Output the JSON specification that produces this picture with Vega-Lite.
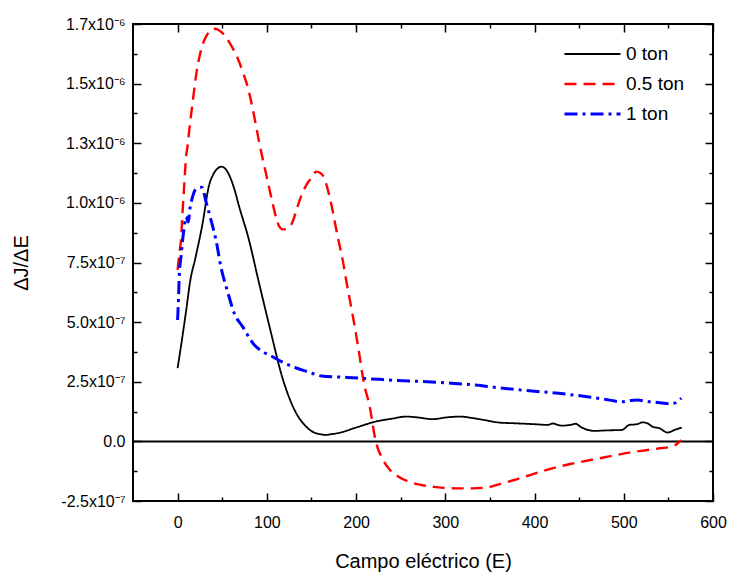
{
  "$schema": "https://vega.github.io/schema/vega-lite/v6.json",
  "width": 580,
  "height": 477,
  "autosize": "none",
  "padding": {"left": 133, "top": 24, "right": 17, "bottom": 72},
  "background": "white",
  "config": {
    "font": "Liberation Sans",
    "view": {"stroke": "black", "strokeWidth": 2},
    "axis": {
      "domain": false,
      "ticks": false,
      "grid": true,
      "gridColor": "#000000",
      "gridOpacity": 1,
      "gridWidth": 1.5,
      "labelColor": "black",
      "labelFont": "Liberation Sans",
      "labelFontSize": 16,
      "titleFont": "Liberation Sans",
      "titleFontSize": 20,
      "titleFontWeight": "normal",
      "titleColor": "black",
      "labelFlush": false,
      "labelOverlap": false
    }
  },
  "data": {
    "values": [
      {"E": 0, "dJdE": 3.07e-7, "series": "0 ton"},
      {"E": 5, "dJdE": 4.3e-7, "series": "0 ton"},
      {"E": 10, "dJdE": 5.6e-7, "series": "0 ton"},
      {"E": 14, "dJdE": 6.7e-7, "series": "0 ton"},
      {"E": 20, "dJdE": 7.7e-7, "series": "0 ton"},
      {"E": 28, "dJdE": 9.14e-7, "series": "0 ton"},
      {"E": 35, "dJdE": 1.07e-6, "series": "0 ton"},
      {"E": 40, "dJdE": 1.12e-6, "series": "0 ton"},
      {"E": 45, "dJdE": 1.145e-6, "series": "0 ton"},
      {"E": 49, "dJdE": 1.152e-6, "series": "0 ton"},
      {"E": 53, "dJdE": 1.145e-6, "series": "0 ton"},
      {"E": 58, "dJdE": 1.115e-6, "series": "0 ton"},
      {"E": 63, "dJdE": 1.065e-6, "series": "0 ton"},
      {"E": 69, "dJdE": 9.84e-7, "series": "0 ton"},
      {"E": 80, "dJdE": 8.44e-7, "series": "0 ton"},
      {"E": 90, "dJdE": 6.84e-7, "series": "0 ton"},
      {"E": 103, "dJdE": 4.81e-7, "series": "0 ton"},
      {"E": 118, "dJdE": 2.6e-7, "series": "0 ton"},
      {"E": 131, "dJdE": 1.32e-7, "series": "0 ton"},
      {"E": 144, "dJdE": 6.2e-8, "series": "0 ton"},
      {"E": 153, "dJdE": 3.7e-8, "series": "0 ton"},
      {"E": 160, "dJdE": 3.0e-8, "series": "0 ton"},
      {"E": 166, "dJdE": 2.7e-8, "series": "0 ton"},
      {"E": 172, "dJdE": 3.0e-8, "series": "0 ton"},
      {"E": 179, "dJdE": 3.4e-8, "series": "0 ton"},
      {"E": 200, "dJdE": 5.8e-8, "series": "0 ton"},
      {"E": 222, "dJdE": 8.3e-8, "series": "0 ton"},
      {"E": 240, "dJdE": 9.5e-8, "series": "0 ton"},
      {"E": 256, "dJdE": 1.04e-7, "series": "0 ton"},
      {"E": 270, "dJdE": 1.0e-7, "series": "0 ton"},
      {"E": 286, "dJdE": 9.3e-8, "series": "0 ton"},
      {"E": 300, "dJdE": 1.0e-7, "series": "0 ton"},
      {"E": 317, "dJdE": 1.04e-7, "series": "0 ton"},
      {"E": 330, "dJdE": 9.8e-8, "series": "0 ton"},
      {"E": 343, "dJdE": 9.0e-8, "series": "0 ton"},
      {"E": 360, "dJdE": 7.9e-8, "series": "0 ton"},
      {"E": 377, "dJdE": 7.6e-8, "series": "0 ton"},
      {"E": 400, "dJdE": 7.2e-8, "series": "0 ton"},
      {"E": 415, "dJdE": 6.9e-8, "series": "0 ton"},
      {"E": 420, "dJdE": 7.5e-8, "series": "0 ton"},
      {"E": 430, "dJdE": 6.6e-8, "series": "0 ton"},
      {"E": 440, "dJdE": 6.9e-8, "series": "0 ton"},
      {"E": 446, "dJdE": 7.4e-8, "series": "0 ton"},
      {"E": 452, "dJdE": 6.0e-8, "series": "0 ton"},
      {"E": 467, "dJdE": 4.4e-8, "series": "0 ton"},
      {"E": 480, "dJdE": 4.6e-8, "series": "0 ton"},
      {"E": 498, "dJdE": 4.8e-8, "series": "0 ton"},
      {"E": 506, "dJdE": 6.9e-8, "series": "0 ton"},
      {"E": 515, "dJdE": 7.2e-8, "series": "0 ton"},
      {"E": 521, "dJdE": 8.0e-8, "series": "0 ton"},
      {"E": 527, "dJdE": 7.5e-8, "series": "0 ton"},
      {"E": 532, "dJdE": 6.2e-8, "series": "0 ton"},
      {"E": 540, "dJdE": 5.5e-8, "series": "0 ton"},
      {"E": 549, "dJdE": 3.7e-8, "series": "0 ton"},
      {"E": 557, "dJdE": 4.8e-8, "series": "0 ton"},
      {"E": 565, "dJdE": 5.8e-8, "series": "0 ton"},

      {"E": 0, "dJdE": 7.19e-7, "series": "0.5 ton"},
      {"E": 2, "dJdE": 7.9e-7, "series": "0.5 ton"},
      {"E": 3.8, "dJdE": 8.44e-7, "series": "0.5 ton"},
      {"E": 5.5, "dJdE": 9.6e-7, "series": "0.5 ton"},
      {"E": 7.5, "dJdE": 1.08e-6, "series": "0.5 ton"},
      {"E": 9.4, "dJdE": 1.19e-6, "series": "0.5 ton"},
      {"E": 11.2, "dJdE": 1.24e-6, "series": "0.5 ton"},
      {"E": 13.1, "dJdE": 1.306e-6, "series": "0.5 ton"},
      {"E": 16.8, "dJdE": 1.42e-6, "series": "0.5 ton"},
      {"E": 20.5, "dJdE": 1.53e-6, "series": "0.5 ton"},
      {"E": 26.2, "dJdE": 1.64e-6, "series": "0.5 ton"},
      {"E": 31.8, "dJdE": 1.697e-6, "series": "0.5 ton"},
      {"E": 36, "dJdE": 1.72e-6, "series": "0.5 ton"},
      {"E": 41, "dJdE": 1.73e-6, "series": "0.5 ton"},
      {"E": 46, "dJdE": 1.725e-6, "series": "0.5 ton"},
      {"E": 52.4, "dJdE": 1.704e-6, "series": "0.5 ton"},
      {"E": 60, "dJdE": 1.66e-6, "series": "0.5 ton"},
      {"E": 67.3, "dJdE": 1.606e-6, "series": "0.5 ton"},
      {"E": 73, "dJdE": 1.55e-6, "series": "0.5 ton"},
      {"E": 78.5, "dJdE": 1.487e-6, "series": "0.5 ton"},
      {"E": 86, "dJdE": 1.36e-6, "series": "0.5 ton"},
      {"E": 91.6, "dJdE": 1.25e-6, "series": "0.5 ton"},
      {"E": 99, "dJdE": 1.124e-6, "series": "0.5 ton"},
      {"E": 106.5, "dJdE": 9.98e-7, "series": "0.5 ton"},
      {"E": 111, "dJdE": 9.3e-7, "series": "0.5 ton"},
      {"E": 114, "dJdE": 9.0e-7, "series": "0.5 ton"},
      {"E": 117.7, "dJdE": 8.89e-7, "series": "0.5 ton"},
      {"E": 122, "dJdE": 8.9e-7, "series": "0.5 ton"},
      {"E": 128.9, "dJdE": 9.21e-7, "series": "0.5 ton"},
      {"E": 134, "dJdE": 9.8e-7, "series": "0.5 ton"},
      {"E": 138.3, "dJdE": 1.026e-6, "series": "0.5 ton"},
      {"E": 145, "dJdE": 1.08e-6, "series": "0.5 ton"},
      {"E": 151.3, "dJdE": 1.11e-6, "series": "0.5 ton"},
      {"E": 155, "dJdE": 1.131e-6, "series": "0.5 ton"},
      {"E": 160, "dJdE": 1.125e-6, "series": "0.5 ton"},
      {"E": 164.5, "dJdE": 1.103e-6, "series": "0.5 ton"},
      {"E": 168, "dJdE": 1.06e-6, "series": "0.5 ton"},
      {"E": 172, "dJdE": 9.98e-7, "series": "0.5 ton"},
      {"E": 179.4, "dJdE": 8.58e-7, "series": "0.5 ton"},
      {"E": 185, "dJdE": 7.6e-7, "series": "0.5 ton"},
      {"E": 189.5, "dJdE": 6.63e-7, "series": "0.5 ton"},
      {"E": 195.8, "dJdE": 5.37e-7, "series": "0.5 ton"},
      {"E": 202.3, "dJdE": 3.97e-7, "series": "0.5 ton"},
      {"E": 208.8, "dJdE": 2.44e-7, "series": "0.5 ton"},
      {"E": 215.3, "dJdE": 1.46e-7, "series": "0.5 ton"},
      {"E": 221.7, "dJdE": 6e-9, "series": "0.5 ton"},
      {"E": 230.3, "dJdE": -7.8e-8, "series": "0.5 ton"},
      {"E": 238, "dJdE": -1.2e-7, "series": "0.5 ton"},
      {"E": 247.6, "dJdE": -1.48e-7, "series": "0.5 ton"},
      {"E": 260, "dJdE": -1.7e-7, "series": "0.5 ton"},
      {"E": 273.4, "dJdE": -1.83e-7, "series": "0.5 ton"},
      {"E": 290, "dJdE": -1.92e-7, "series": "0.5 ton"},
      {"E": 312.3, "dJdE": -1.97e-7, "series": "0.5 ton"},
      {"E": 330, "dJdE": -1.97e-7, "series": "0.5 ton"},
      {"E": 346.8, "dJdE": -1.93e-7, "series": "0.5 ton"},
      {"E": 360, "dJdE": -1.8e-7, "series": "0.5 ton"},
      {"E": 377, "dJdE": -1.62e-7, "series": "0.5 ton"},
      {"E": 400, "dJdE": -1.35e-7, "series": "0.5 ton"},
      {"E": 420, "dJdE": -1.13e-7, "series": "0.5 ton"},
      {"E": 440, "dJdE": -9.5e-8, "series": "0.5 ton"},
      {"E": 463, "dJdE": -7.8e-8, "series": "0.5 ton"},
      {"E": 485, "dJdE": -6.2e-8, "series": "0.5 ton"},
      {"E": 506, "dJdE": -4.7e-8, "series": "0.5 ton"},
      {"E": 525, "dJdE": -3.7e-8, "series": "0.5 ton"},
      {"E": 540.6, "dJdE": -2.9e-8, "series": "0.5 ton"},
      {"E": 553.5, "dJdE": -2.2e-8, "series": "0.5 ton"},
      {"E": 560, "dJdE": -1.0e-8, "series": "0.5 ton"},
      {"E": 564.3, "dJdE": 6e-9, "series": "0.5 ton"},

      {"E": 0, "dJdE": 5.09e-7, "series": "1 ton"},
      {"E": 1, "dJdE": 6.0e-7, "series": "1 ton"},
      {"E": 1.9, "dJdE": 7.0e-7, "series": "1 ton"},
      {"E": 4, "dJdE": 7.8e-7, "series": "1 ton"},
      {"E": 5.6, "dJdE": 8.44e-7, "series": "1 ton"},
      {"E": 7.5, "dJdE": 9.0e-7, "series": "1 ton"},
      {"E": 9.4, "dJdE": 9.42e-7, "series": "1 ton"},
      {"E": 12, "dJdE": 9.2e-7, "series": "1 ton"},
      {"E": 14, "dJdE": 9.8e-7, "series": "1 ton"},
      {"E": 16.8, "dJdE": 1.026e-6, "series": "1 ton"},
      {"E": 19, "dJdE": 1.05e-6, "series": "1 ton"},
      {"E": 22.4, "dJdE": 1.061e-6, "series": "1 ton"},
      {"E": 27.3, "dJdE": 1.065e-6, "series": "1 ton"},
      {"E": 31.8, "dJdE": 1.005e-6, "series": "1 ton"},
      {"E": 37.4, "dJdE": 9.28e-7, "series": "1 ton"},
      {"E": 43, "dJdE": 8.44e-7, "series": "1 ton"},
      {"E": 48.6, "dJdE": 7.3e-7, "series": "1 ton"},
      {"E": 56, "dJdE": 6.28e-7, "series": "1 ton"},
      {"E": 63.5, "dJdE": 5.37e-7, "series": "1 ton"},
      {"E": 72.9, "dJdE": 4.81e-7, "series": "1 ton"},
      {"E": 86, "dJdE": 4.04e-7, "series": "1 ton"},
      {"E": 96, "dJdE": 3.75e-7, "series": "1 ton"},
      {"E": 106.5, "dJdE": 3.55e-7, "series": "1 ton"},
      {"E": 117, "dJdE": 3.33e-7, "series": "1 ton"},
      {"E": 128.9, "dJdE": 3.13e-7, "series": "1 ton"},
      {"E": 145.7, "dJdE": 2.92e-7, "series": "1 ton"},
      {"E": 161.4, "dJdE": 2.74e-7, "series": "1 ton"},
      {"E": 180, "dJdE": 2.7e-7, "series": "1 ton"},
      {"E": 204.6, "dJdE": 2.65e-7, "series": "1 ton"},
      {"E": 225, "dJdE": 2.6e-7, "series": "1 ton"},
      {"E": 247.6, "dJdE": 2.55e-7, "series": "1 ton"},
      {"E": 270, "dJdE": 2.52e-7, "series": "1 ton"},
      {"E": 290.7, "dJdE": 2.48e-7, "series": "1 ton"},
      {"E": 310, "dJdE": 2.43e-7, "series": "1 ton"},
      {"E": 333.8, "dJdE": 2.36e-7, "series": "1 ton"},
      {"E": 355, "dJdE": 2.27e-7, "series": "1 ton"},
      {"E": 377, "dJdE": 2.18e-7, "series": "1 ton"},
      {"E": 400, "dJdE": 2.1e-7, "series": "1 ton"},
      {"E": 420, "dJdE": 2.04e-7, "series": "1 ton"},
      {"E": 440, "dJdE": 1.96e-7, "series": "1 ton"},
      {"E": 463.2, "dJdE": 1.85e-7, "series": "1 ton"},
      {"E": 480, "dJdE": 1.76e-7, "series": "1 ton"},
      {"E": 497.8, "dJdE": 1.66e-7, "series": "1 ton"},
      {"E": 505, "dJdE": 1.7e-7, "series": "1 ton"},
      {"E": 515, "dJdE": 1.74e-7, "series": "1 ton"},
      {"E": 525, "dJdE": 1.68e-7, "series": "1 ton"},
      {"E": 540.7, "dJdE": 1.62e-7, "series": "1 ton"},
      {"E": 553.5, "dJdE": 1.57e-7, "series": "1 ton"},
      {"E": 558, "dJdE": 1.62e-7, "series": "1 ton"},
      {"E": 564.5, "dJdE": 1.81e-7, "series": "1 ton"}
    ]
  },
  "layer": [
    {
      "data": {"values": [{"ref": 0}]},
      "mark": {"type": "rule", "color": "black", "strokeWidth": 2},
      "encoding": {
        "x": {"datum": -50, "type": "quantitative", "scale": {"domain": [-50, 600], "nice": false, "zero": false},
          "axis": {"orient": "top", "title": null, "labels": false, "grid": true,
            "values": [50, 150, 250, 350, 450, 550], "gridDash": [4, 469, 4]}},
        "x2": {"datum": 600},
        "y": {"datum": 0, "type": "quantitative", "scale": {"domain": [-2.5e-7, 1.75e-6], "nice": false, "zero": false},
          "axis": {"orient": "right", "title": null, "labels": false, "grid": true,
            "values": [-1.25e-7, 1.25e-7, 3.75e-7, 6.25e-7, 8.75e-7, 1.125e-6, 1.375e-6, 1.625e-6], "gridDash": [4, 572, 4]}}
      }
    },
    {
      "mark": {"type": "line", "clip": true, "interpolate": "monotone", "strokeCap": "butt"},
      "encoding": {
        "x": {"field": "E", "type": "quantitative",
          "axis": {"orient": "bottom", "title": "Campo eléctrico (E)", "titlePadding": 21, "grid": true,
            "values": [0, 100, 200, 300, 400, 500, 600], "gridDash": [8, 461, 8],
            "labelPadding": 13}},
        "y": {"field": "dJdE", "type": "quantitative",
          "axis": {"orient": "left", "title": "ΔJ/ΔE", "titlePadding": 29, "grid": true,
            "values": [-2.5e-7, 0, 2.5e-7, 5e-7, 7.5e-7, 1e-6, 1.25e-6, 1.5e-6, 1.75e-6], "gridDash": [8, 564, 8],
            "labelExpr": "round(datum.value*1e9)==1750 ? '1.7x10⁻⁶' : round(datum.value*1e9)==1500 ? '1.5x10⁻⁶' : round(datum.value*1e9)==1250 ? '1.3x10⁻⁶' : round(datum.value*1e9)==1000 ? '1.0x10⁻⁶' : round(datum.value*1e9)==750 ? '7.5x10⁻⁷' : round(datum.value*1e9)==500 ? '5.0x10⁻⁷' : round(datum.value*1e9)==250 ? '2.5x10⁻⁷' : round(datum.value*1e9)==0 ? '0.0' : round(datum.value*1e9)==-250 ? '-2.5x10⁻⁷' : ''",
            "labelPadding": 8}},
        "color": {"field": "series", "type": "nominal",
          "scale": {"domain": ["0 ton", "0.5 ton", "1 ton"], "range": ["#000000", "#ff0000", "#0000ff"]},
          "legend": {"orient": "none", "legendX": 430, "legendY": 16, "title": null,
            "symbolType": "stroke", "symbolSize": 3136, "symbolStrokeWidth": 2.5,
            "labelFontSize": 19, "labelFont": "Liberation Sans", "labelColor": "black",
            "labelOffset": 4, "rowPadding": 2, "clipHeight": 28}},
        "strokeDash": {"field": "series", "type": "nominal",
          "scale": {"domain": ["0 ton", "0.5 ton", "1 ton"], "range": [[1, 0], [12, 7], [13, 5, 3, 5]]},
          "legend": {"orient": "none", "legendX": 430, "legendY": 16, "title": null,
            "symbolType": "stroke", "symbolSize": 3136, "symbolStrokeWidth": 2.5,
            "labelFontSize": 19, "labelFont": "Liberation Sans", "labelColor": "black",
            "labelOffset": 4, "rowPadding": 2, "clipHeight": 28}},
        "strokeWidth": {"field": "series", "type": "nominal",
          "scale": {"domain": ["0 ton", "0.5 ton", "1 ton"], "range": [1.8, 3, 3]}, "legend": null}
      }
    }
  ],
  "resolve": {"axis": {"x": "independent", "y": "independent"}}
}
